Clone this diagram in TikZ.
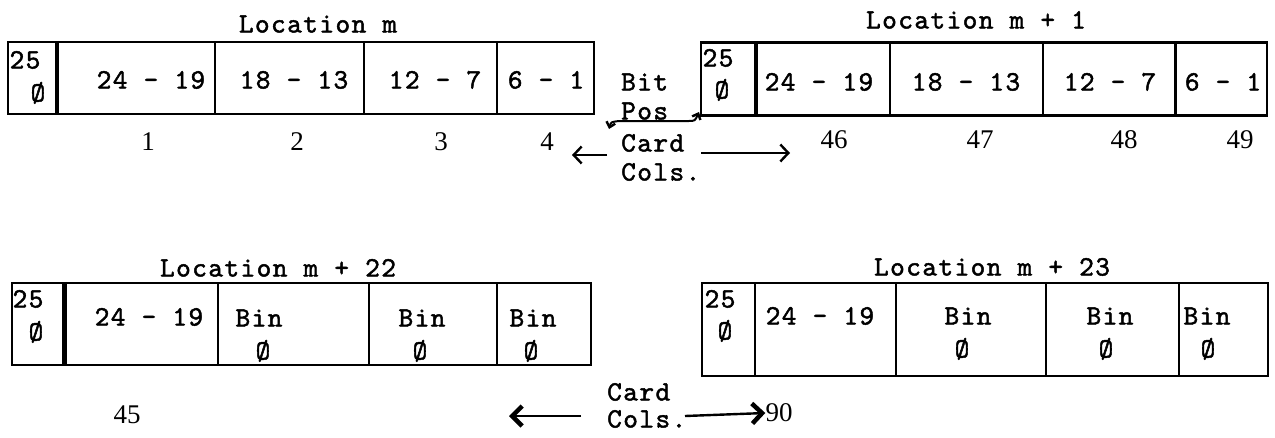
\documentclass[tikz,border=0pt]{standalone}
\usepackage{fontspec}
\newfontfamily\tw[LetterSpace=5,FakeBold=1.6]{lmmono10-regular.otf}
\newfontfamily\nr{Liberation Serif}
\usetikzlibrary{arrows.meta}
\tikzset{
  cell/.style={draw, line width=2.4pt, inner sep=0pt},
  txt/.style={inner sep=0pt, font={\tw\fontsize{28}{32}\selectfont}, text height=17pt, text depth=0pt},
  num/.style={inner sep=0pt, font={\nr\fontsize{27}{30}\selectfont}, text height=17pt, text depth=0pt},
  thinarr/.style={line width=2.2pt, -{Straight Barb[length=8pt,width=17pt,line width=2.4pt]}},
  boldarr/.style={line width=2.4pt, -{Straight Barb[length=10pt,width=20pt,line width=4.5pt]}},
  posarr/.style={line width=2pt, {Straight Barb[length=5pt,width=9pt,line width=2.4pt]}-{Straight Barb[length=5pt,width=9pt,line width=2.4pt]}}
}
\begin{document}
\begin{tikzpicture}[x=1pt,y=-1pt]
\useasboundingbox[fill=white] (0,0) rectangle (1275,437);

% ---------- Location m ----------
\node[txt] (lm) at (318,24) {Location m};
\node[cell, minimum width=48pt,  minimum height=72pt] (a1) at (32,78) {};
\node[cell, minimum width=159pt, minimum height=72pt] (a2) at (135.5,78) {};
\node[cell, minimum width=149pt, minimum height=72pt] (a3) at (289.5,78) {};
\node[cell, minimum width=133pt, minimum height=72pt] (a4) at (430.5,78) {};
\node[cell, minimum width=97pt,  minimum height=72pt] (a5) at (545.5,78) {};
\draw[line width=4.5pt] (a1.north east) -- (a1.south east);
\node[txt] (a1t) at (25,60) {25};
\node[txt] (a1z) at (38,93) {Ø};
\node[txt] (a2t) at (151,80) {24 - 19};
\node[txt] (a3t) at (294,80) {18 - 13};
\node[txt] (a4t) at (435,80) {12 - 7};
\node[txt] (a5t) at (546,80) {6 - 1};
\node[num] (n1) at (148,142) {1};
\node[num] (n2) at (297,142) {2};
\node[num] (n3) at (441,142) {3};
\node[num] (n4) at (547,142) {4};

% ---------- Location m + 1 ----------
\node[txt] (lm1) at (976,20) {Location m + 1};
\node[cell, minimum width=54pt,  minimum height=73pt] (b1) at (728,79) {};
\node[cell, minimum width=135pt, minimum height=73pt] (b2) at (822.5,79) {};
\node[cell, minimum width=153pt, minimum height=73pt] (b3) at (966.5,79) {};
\node[cell, minimum width=132pt, minimum height=73pt] (b4) at (1109,79) {};
\node[cell, minimum width=91pt,  minimum height=73pt] (b5) at (1221.5,79) {};
\draw[line width=3.5pt] (b1.north east) -- (b1.south east);
\node[txt] (b1t) at (718,58) {25};
\node[txt] (b1z) at (722,90) {Ø};
\node[txt] (b2t) at (819,82) {24 - 19};
\node[txt] (b3t) at (966,82) {18 - 13};
\node[txt] (b4t) at (1110,82) {12 - 7};
\node[txt] (b5t) at (1223,82) {6 - 1};
\node[num] (n46) at (834,140) {46};
\node[num] (n47) at (980,140) {47};
\node[num] (n48) at (1124,140) {48};
\node[num] (n49) at (1240,140) {49};

% ---------- middle labels (top) ----------
\node[txt, anchor=west] (bit) at (621,82) {Bit};
\node[txt, anchor=west] (pos) at (621,111) {Pos};
\node[txt, anchor=west] (card1) at (621,143) {Card};
\node[txt, anchor=west] (cols1) at (621,172) {Cols.};
\coordinate (pl) at (609,129);
\coordinate (pr) at (699,112);
\draw[posarr] (pl) .. controls (611,122) .. (619,121) -- (688,121) .. controls (695,121) .. (pr);
\coordinate (ls) at (607,155);
\coordinate (la) at (572,155);
\coordinate (rs) at (701,153);
\coordinate (ra) at (790,153);
\draw[thinarr] (ls) -- (la);
\draw[thinarr] (rs) -- (ra);

% ---------- Location m + 22 ----------
\node[txt] (lm22) at (278,268) {Location m + 22};
\node[cell, minimum width=51pt,  minimum height=82pt] (c1) at (37.5,324) {};
\node[cell, minimum width=155pt, minimum height=82pt] (c2) at (140.5,324) {};
\node[cell, minimum width=151pt, minimum height=82pt] (c3) at (293.5,324) {};
\node[cell, minimum width=128pt, minimum height=82pt] (c4) at (433,324) {};
\node[cell, minimum width=94pt,  minimum height=82pt] (c5) at (544,324) {};
\draw[line width=5pt] (c1.north east) -- (c1.south east);
\node[txt] (c1t) at (28,299) {25};
\node[txt] (c1z) at (36,332) {Ø};
\node[txt] (c2t) at (149,317) {24 - 19};
\node[txt] (c3t) at (259,318) {Bin};
\node[txt] (c3z) at (263,351) {Ø};
\node[txt] (c4t) at (422,318) {Bin};
\node[txt] (c4z) at (420,351) {Ø};
\node[txt] (c5t) at (533,318) {Bin};
\node[txt] (c5z) at (531,351) {Ø};
\node[num] (n45) at (127,415) {45};

% ---------- Location m + 23 ----------
\node[txt] (lm23) at (992,267) {Location m + 23};
\node[cell, minimum width=53pt,  minimum height=93pt] (d1) at (728.5,329.5) {};
\node[cell, minimum width=141pt, minimum height=93pt] (d2) at (825.5,329.5) {};
\node[cell, minimum width=150pt, minimum height=93pt] (d3) at (971,329.5) {};
\node[cell, minimum width=133pt, minimum height=93pt] (d4) at (1112.5,329.5) {};
\node[cell, minimum width=89pt,  minimum height=93pt] (d5) at (1223.5,329.5) {};
\node[txt] (d1t) at (720,299) {25};
\node[txt] (d1z) at (725,331) {Ø};
\node[txt] (d2t) at (820,316) {24 - 19};
\node[txt] (d3t) at (968,316) {Bin};
\node[txt] (d3z) at (962,349) {Ø};
\node[txt] (d4t) at (1110,316) {Bin};
\node[txt] (d4z) at (1106,349) {Ø};
\node[txt] (d5t) at (1207,316) {Bin};
\node[txt] (d5z) at (1208,349) {Ø};

% ---------- middle labels (bottom) ----------
\node[txt, anchor=west] (card2) at (607,392) {Card};
\node[txt, anchor=west] (cols2) at (607,419) {Cols.};
\node[num] (n90) at (779,413) {90};
\coordinate (bls) at (581,416);
\coordinate (bl) at (509,416);
\coordinate (brs) at (685,416);
\draw[boldarr] (bls) -- (bl);
\draw[boldarr] (brs) -- (n90.west);
\end{tikzpicture}
\end{document}
